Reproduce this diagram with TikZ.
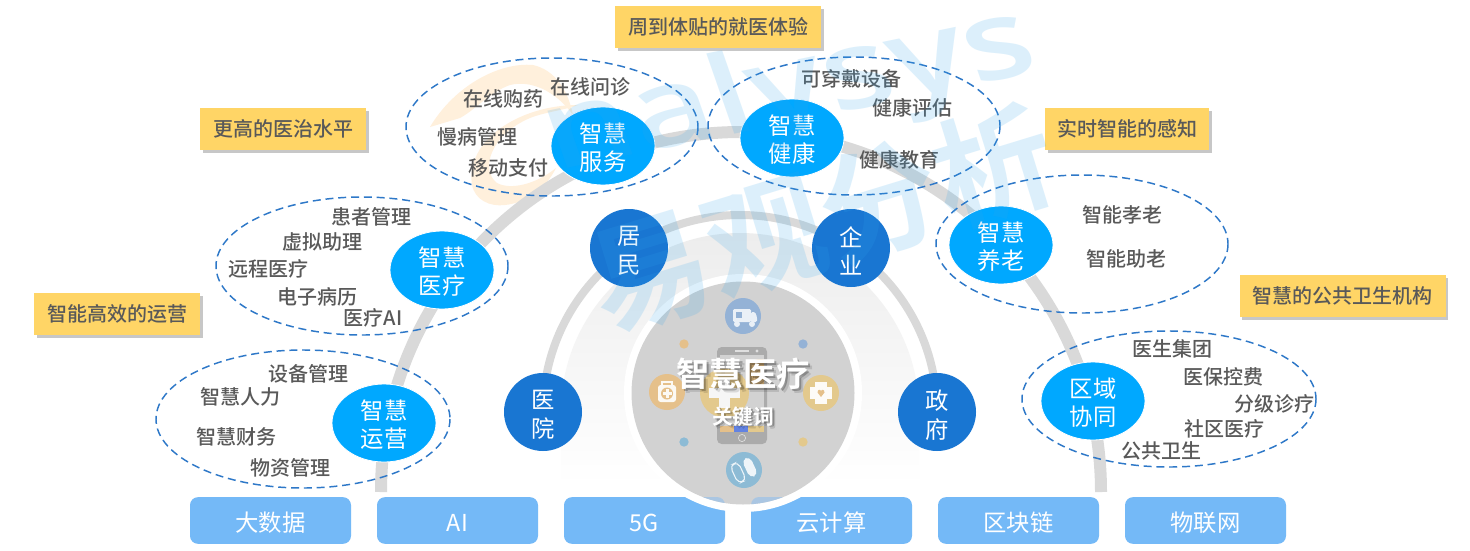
\documentclass[tikz,border=0pt]{standalone}
\usepackage{fontspec}
\setmainfont{Noto Sans CJK SC}
\newfontfamily\cjkb{Noto Sans CJK SC Bold}
\newfontfamily\cjkm{Noto Sans CJK SC Medium}
\usetikzlibrary{shapes.geometric,shadows}
\newcommand\dn[1]{\raisebox{-1.5pt}[\height][\depth]{#1}}
\newcommand\dnn[1]{\raisebox{-2.25pt}[\height][\depth]{#1}}
\definecolor{tagy}{HTML}{FFD566}
\definecolor{txt}{HTML}{595959}
\definecolor{cy}{HTML}{00A8FF}
\definecolor{dk}{HTML}{1976D2}
\definecolor{tile}{HTML}{74B9F7}
\definecolor{tilef}{HTML}{AAC6E2}
\definecolor{dash}{HTML}{2E78C8}
\definecolor{arcg}{HTML}{D9D9D9}
\definecolor{wm}{HTML}{30A4EC}
\definecolor{inner}{HTML}{D2D2D2}
\definecolor{ibl}{HTML}{94B2D6}
\definecolor{ity}{HTML}{8DBBD5}
\definecolor{ior}{HTML}{E5C08A}
\definecolor{iye}{HTML}{E3C98D}
\definecolor{ibr}{HTML}{C9A876}
\definecolor{ipale}{HTML}{EDEDED}
\definecolor{logo}{HTML}{FFF0DC}
\tikzset{
 tagbox/.style={fill=tagy,minimum height=31.5pt,inner sep=0pt,text=txt,font=\cjkm\fontsize{15}{15}\selectfont,
   general shadow={shadow xshift=2.2pt,shadow yshift=-2.2pt,fill=black!40,opacity=.55}},
 lab/.style={text=txt,font=\cjkm\fontsize{15}{15}\selectfont,inner sep=0pt,yshift=-0.6pt},
 cycle/.style={ellipse,fill=cy,draw=white,line width=.6pt,text=white,minimum width=78pt,minimum height=58.5pt,inner sep=0pt,align=center,font=\fontsize{17.5}{21}\selectfont},
 dkc/.style={circle,fill=dk,text=white,minimum size=58.5pt,inner sep=0pt,align=center,font=\fontsize{17.5}{21.5}\selectfont},
 tilebox/.style={rounded corners=6pt,fill=tile,text=white,minimum width=120.75pt,minimum height=35pt,inner sep=0pt,font=\fontsize{17.5}{17.5}\selectfont},
 dashell/.style={draw=dash,line width=1.1pt,dash pattern=on 6pt off 3.6pt},
 wmk/.style={text=wm,opacity=.17,inner sep=0pt},
 iconc/.style={circle,minimum size=27pt,inner sep=0pt},
 dotc/.style={circle,minimum size=7pt,inner sep=0pt},
}
\begin{document}
\begin{tikzpicture}[x=0.75pt,y=-0.75pt]
\useasboundingbox (0,0) rectangle (1470,550);
\fill[white] (0,0) rectangle (1470,550);
% orange logo
\fill[logo] (430,127) .. controls (455,85) and (500,62) .. (533,65) .. controls (555,70) and (568,90) .. (573,115)
  .. controls (555,90) and (530,80) .. (510,85) .. controls (490,92) and (475,110) .. (460,118) -- cycle;
\fill[logo] (578,105) .. controls (520,105) and (465,140) .. (472,185) .. controls (475,200) and (490,207) .. (505,205)
  .. controls (525,203) and (545,190) .. (556,168) .. controls (535,185) and (510,190) .. (497,183) .. controls (480,170) and (490,135) .. (530,118) .. controls (545,112) and (565,110) .. (578,105) -- cycle;
% arcs
\draw[draw=arcg,line width=9pt] (381,492) arc[start angle=180,end angle=360,radius=360];
\shade[top color=ipale,bottom color=white] (561,485) -- (561,412) arc[start angle=180,end angle=360,radius=179] -- (919,485) -- cycle;
\draw[draw=arcg,line width=6pt] (543,412) arc[start angle=180,end angle=360,radius=197];
% tiles
\node[tilebox] (t1) at (270.5,520.5) {\dn{大数据}};
\node[tilebox] (t2) at (457.5,520.5) {\dn{AI}};
\node[tilebox] (t3) at (644.5,520.5) {\dn{5G}};
\node[tilebox] (t4) at (831.5,520.5) {\dn{云计算}};
\node[tilebox] (t5) at (1018.5,520.5) {\dn{区块链}};
\node[tilebox] (t6) at (1205.5,520.5) {\dn{物联网}};
% central disc
\fill[white] (743,393) circle[radius=119];
\fill[inner] (743,393) circle[radius=111.5];
\begin{scope}
\clip (743,393) circle[radius=111.5];
\fill[tilef,rounded corners=6pt] (564,497) rectangle (725,544);
\fill[tilef,rounded corners=6pt] (751,497) rectangle (912,544);
\end{scope}
\node[iconc,fill=ibl] (amb) at (743,316) {};
\node[iconc,fill=ity] (pill) at (744,470) {};
\node[iconc,fill=ior] (kit) at (667,392) {};
\node[iconc,fill=iye] (hrt) at (821,393) {};
\node[dotc,fill=ior] (d1) at (684,344) {};
\node[dotc,fill=ibl] (d2) at (803,344) {};
\node[dotc,fill=ity] (d3) at (684,442) {};
\node[dotc,fill=iye] (d4) at (803,442) {};
% phone, then the discs over it
\fill[rounded corners=3.5pt,fill=black!33] (717,347) rectangle (767,444);
\fill[inner] (720,355) rectangle (764,432);
\fill[iye] (724.5,393) circle[radius=24.5];
\begin{scope}
\clip (720,355) rectangle (764,432);
\fill[ibr] (760,373) circle[radius=14];
\end{scope}
\fill[white!93!gray] (719,378) rectangle (730,408);
\fill[white!93!gray] (709,388) rectangle (740,398);
\fill[ior] (720,426) rectangle (734,432);
\fill[ity!70!blue] (734,426) rectangle (748,432);
\fill[iye] (748,426) rectangle (764,432);
\draw[white!75!gray,line width=.5pt] (742,438) circle[radius=3.6];
\fill[white!75!gray] (735,350.3) rectangle (749,351.8);
\fill[white!75!gray] (757,351) circle[radius=1.7];
% kit
\fill[white!90!ior,rounded corners=2pt] (658,385) rectangle (676,402);
\draw[white!90!ior,line width=.9pt] (662,385) -- (662,382) -- (672,382) -- (672,385);
\fill[ior] (667,393.5) circle[radius=6];
\fill[white!90!ior] (665.5,389) rectangle (668.5,398);
\fill[white!90!ior] (662.5,392) rectangle (671.5,395);
% cross heart
\fill[white!93!iye] (815,382) rectangle (827,404);
\fill[white!93!iye] (810,387) rectangle (832,399);
\fill[ior] (821,397) -- (817.5,392.5) .. controls (817.5,389) and (821,389) .. (821,391.5) .. controls (821,389) and (824.5,389) .. (824.5,392.5) -- cycle;
% ambulance
\fill[white!80!ibl,rounded corners=1pt] (733,309) rectangle (751,322);
\fill[white!80!ibl,rounded corners=1pt] (751,312) -- (755,312) -- (757,317) -- (757,322) -- (751,322) -- cycle;
\fill[ibl] (736,312) rectangle (742,318);
\fill[white!80!ibl] (737,324) circle[radius=3];
\fill[white!80!ibl] (752,324) circle[radius=3];
% pills
\begin{scope}[rotate around={25:(744,470)}]
\draw[white!85!ity,line width=.8pt,rounded corners=4pt] (733,460) rectangle (742,480);
\fill[white!85!ity,rounded corners=4pt] (746,460) rectangle (755,480);
\end{scope}
% title
\node[text=black,opacity=.12,font=\cjkb\fontsize{25}{25}\selectfont,inner sep=0pt] (hss) at (747.5,377.5) {智慧医疗};
\node[text=black,opacity=.25,font=\cjkb\fontsize{25}{25}\selectfont,inner sep=0pt] (hs) at (745.5,376) {智慧医疗};
\node[text=white,font=\cjkb\fontsize{25}{25}\selectfont,inner sep=0pt] (h1) at (743,374) {智慧医疗};
\node[text=black,opacity=.12,font=\cjkb\fontsize{15.5}{16}\selectfont,inner sep=0pt] (kss) at (746.5,419.5) {关键词};
\node[text=black,opacity=.25,font=\cjkb\fontsize{15.5}{16}\selectfont,inner sep=0pt] (ks) at (745,418) {关键词};
\node[text=white,font=\cjkb\fontsize{15.5}{16}\selectfont,inner sep=0pt] (k1) at (743,416.5) {关键词};
% dark circles
\node[dkc] (hosp) at (543,412) {\dnn{医}\\\dnn{院}};
\node[dkc] (res) at (629,248) {\dnn{居}\\\dnn{民}};
\node[dkc] (ent) at (851,248) {\dnn{企}\\\dnn{业}};
\node[dkc] (gov) at (937,412) {\dnn{政}\\\dnn{府}};
% cyan
\node[cycle] (c1) at (384,423) {\dn{智慧}\\\dn{运营}};
\node[cycle] (c2) at (442,270) {\dn{智慧}\\\dn{医疗}};
\node[cycle] (c3) at (603,146) {\dn{智慧}\\\dn{服务}};
\node[cycle] (c4) at (792,138) {\dn{智慧}\\\dn{健康}};
\node[cycle] (c5) at (1001,245) {\dn{智慧}\\\dn{养老}};
\node[cycle] (c6) at (1093,401) {\dn{区域}\\\dn{协同}};
% ellipses
\draw[dashell] (303,419) ellipse[x radius=147,y radius=69];
\draw[dashell] (362,266) ellipse[x radius=146,y radius=69];
\draw[dashell] (552,127) ellipse[x radius=146,y radius=69];
\draw[dashell] (854,126) ellipse[x radius=146,y radius=69];
\draw[dashell] (1082,244) ellipse[x radius=146,y radius=69];
\draw[dashell] (1169,399) ellipse[x radius=147,y radius=68];
% tags
\node[tagbox,minimum width=154.5pt] (g1) at (718,27) {周到体贴的就医体验};
\node[tagbox,minimum width=124.5pt] (g2) at (283,129) {更高的医治水平};
\node[tagbox,minimum width=123pt] (g3) at (1127,129) {实时智能的感知};
\node[tagbox,minimum width=124.5pt] (g4) at (117,314) {智能高效的运营};
\node[tagbox,minimum width=154.5pt] (g5) at (1342.5,296) {智慧的公共卫生机构};
% labels
\node[lab] (a1) at (308,373) {设备管理};
\node[lab] (a2) at (240,396) {智慧人力};
\node[lab] (a3) at (236,436) {智慧财务};
\node[lab] (a4) at (290,467) {物资管理};
\node[lab] (b1) at (371,216) {患者管理};
\node[lab] (b2) at (322,241) {虚拟助理};
\node[lab] (b3) at (268,268) {远程医疗};
\node[lab] (b4) at (317,296) {电子病历};
\node[lab] (b5) at (373,317) {医疗AI};
\node[lab] (e1) at (590,86) {在线问诊};
\node[lab] (e2) at (503,98) {在线购药};
\node[lab] (e3) at (477,136) {慢病管理};
\node[lab] (e4) at (508,167) {移动支付};
\node[lab] (f1) at (851,78) {可穿戴设备};
\node[lab] (f2) at (912,107) {健康评估};
\node[lab] (f3) at (899,159) {健康教育};
\node[lab] (h1a) at (1122,214) {智能孝老};
\node[lab] (h2a) at (1126,258) {智能助老};
\node[lab] (j1) at (1172,348) {医生集团};
\node[lab] (j2) at (1223,376) {医保控费};
\node[lab] (j3) at (1274,403) {分级诊疗};
\node[lab] (j4) at (1224,428) {社区医疗};
\node[lab] (j5) at (1161,450) {公共卫生};
% watermark
\begin{scope}[shift={(790,93)},xscale=1.3,rotate=15,transform shape]
\node[wmk,font=\fontspec{Open Sans Semibold}\fontsize{82}{82}\selectfont] (w1) at (0,0) {nalysys};
\end{scope}
\begin{scope}[shift={(822,218)},rotate=17,transform shape]
\node[wmk,font=\cjkb\fontsize{90}{90}\selectfont] (w2) at (0,0) {易观分析};
\end{scope}
\end{tikzpicture}
\end{document}
